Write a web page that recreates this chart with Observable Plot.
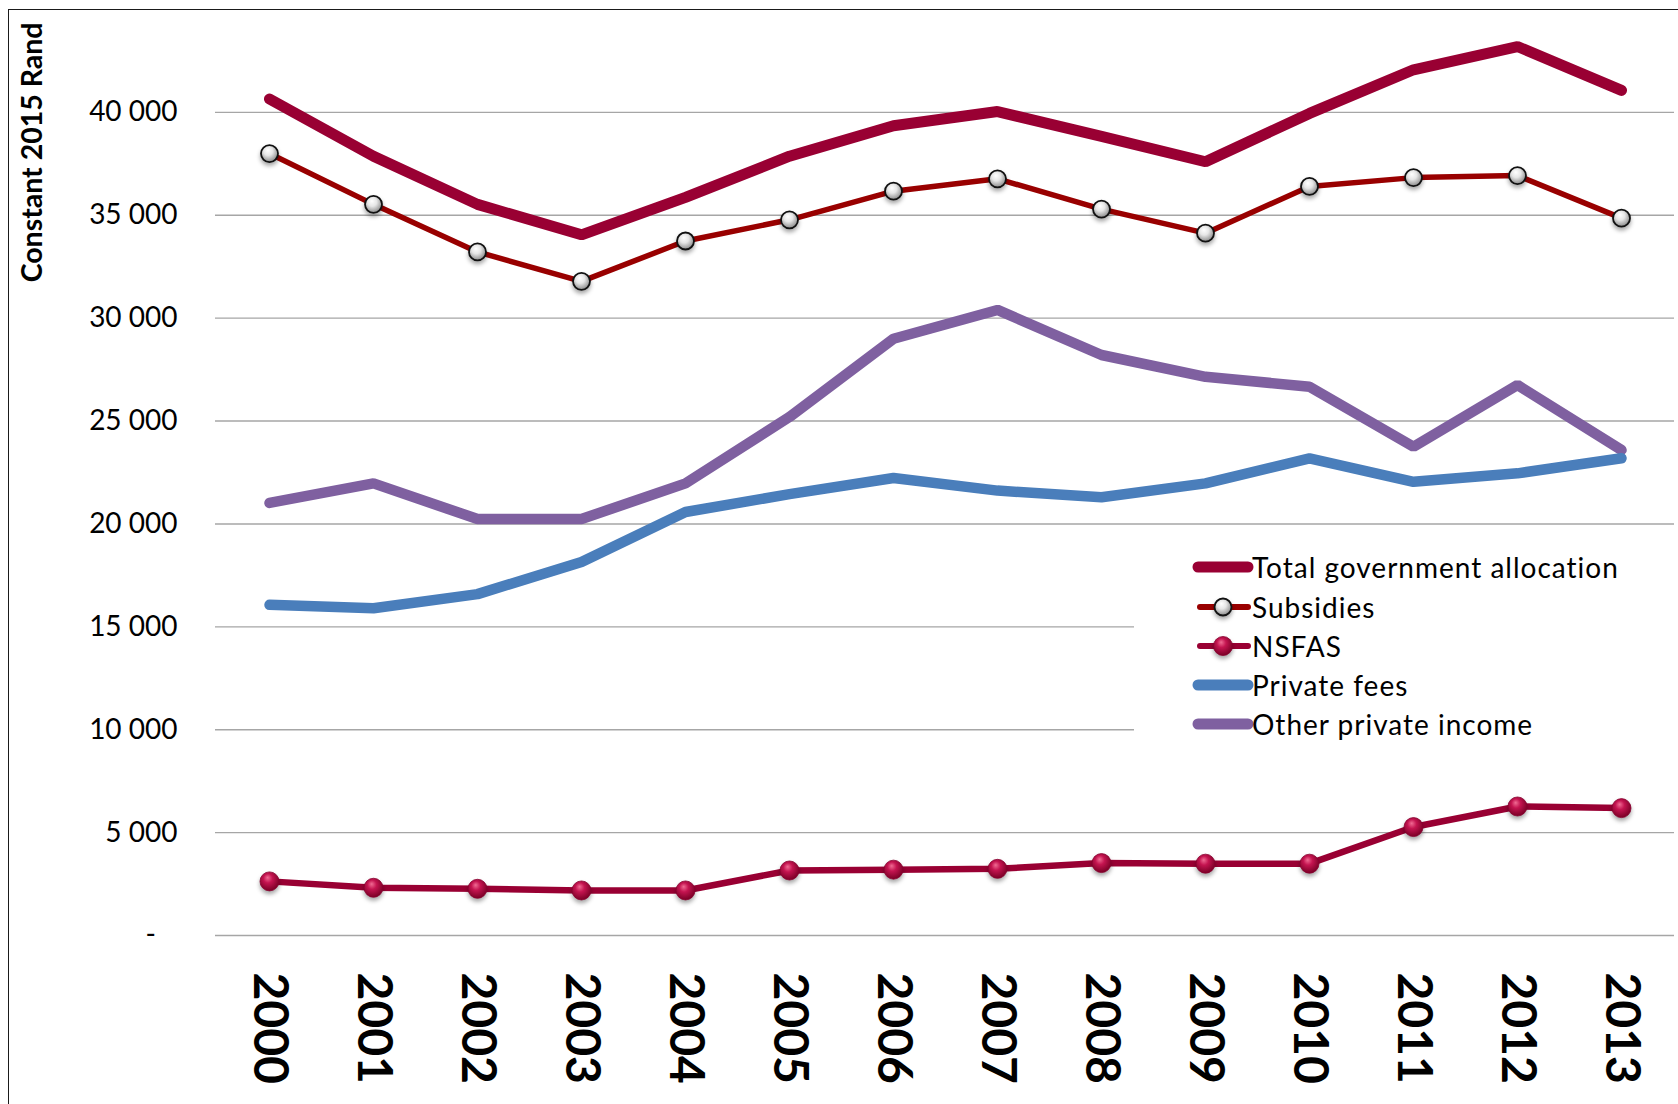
<!DOCTYPE html>
<html>
<head>
<meta charset="utf-8">
<script src="https://cdn.jsdelivr.net/npm/d3@7"></script>
<script src="https://cdn.jsdelivr.net/npm/@observablehq/plot@0.6"></script>
<style>
html, body { margin: 0; padding: 0; background: #fff; overflow: hidden; }
#wrap { position: relative; width: 1678px; height: 1104px; overflow: hidden; }
#border { position: absolute; left: 8px; top: 9px; width: 1720px; height: 1200px; border: 1.5px solid #1a1a1a; box-sizing: border-box; pointer-events: none; }
#legend { position: absolute; left: 1134px; top: 542px; width: 540px; height: 206px; background: #fff; font-family: Lato, "Open Sans", sans-serif; font-size: 28px; letter-spacing: 1px; color: #000; }
.row { position: absolute; left: 0; height: 40px; width: 540px; }
.row svg { position: absolute; left: 58px; top: 0; overflow: visible; }
.row span { position: absolute; left: 118px; top: 0; line-height: 40px; white-space: nowrap; }
.sphere circle, .row circle { filter: drop-shadow(0.5px 3px 2px rgba(0,0,0,0.35)); }
</style>
</head>
<body>
<div id="wrap"></div>
<script>
const years = ["2000","2001","2002","2003","2004","2005","2006","2007","2008","2009","2010","2011","2012","2013"];
const totalGov = [40650, 37870, 35530, 34050, 35870, 37870, 39350, 40040, 38830, 37600, 39950, 42070, 43200, 41070];
const subsidies = [38000, 35530, 33220, 31790, 33750, 34780, 36170, 36770, 35300, 34130, 36400, 36830, 36930, 34860];
const nsfas = [2630, 2320, 2270, 2190, 2190, 3160, 3200, 3240, 3520, 3490, 3490, 5270, 6270, 6190];
const privateFees = [16070, 15900, 16590, 18150, 20580, 21450, 22230, 21620, 21300, 21970, 23190, 22050, 22460, 23190];
const otherPrivate = [21020, 21970, 20240, 20240, 21970, 25200, 29000, 30400, 28210, 27150, 26670, 23750, 26750, 23590];
const yTicks = [0, 5000, 10000, 15000, 20000, 25000, 30000, 35000, 40000];
const seriesNames = ["Total government allocation", "Subsidies", "NSFAS", "Private fees", "Other private income"];
const yLabel = "Constant 2015 Rand";

const colors = {
  "Total government allocation": "#990033",
  "Subsidies": "#990000",
  "NSFAS": "#990033",
  "Private fees": "#4a7ebb",
  "Other private income": "#7f60a0"
};

const toRows = (vals) => years.map((y, i) => ({year: y, value: vals[i]}));
const totalRows = toRows(totalGov);
const subsRows = toRows(subsidies);
const nsfasRows = toRows(nsfas);
const feesRows = toRows(privateFees);
const otherRows = toRows(otherPrivate);

const fmt = d => d === 0 ? "-\u00a0\u00a0\u00a0" : d3.format(",")(d).replace(/,/g, " ");

const defsMark = () => {
  const defs = d3.create("svg:defs");
  const g1 = defs.append("radialGradient").attr("id", "sphereWhite").attr("cx", "0.45").attr("cy", "0.4").attr("r", "0.6").attr("fx", "0.4").attr("fy", "0.3");
  g1.append("stop").attr("offset", "0").attr("stop-color", "#ffffff");
  g1.append("stop").attr("offset", "0.45").attr("stop-color", "#e6e6e6");
  g1.append("stop").attr("offset", "1").attr("stop-color", "#8a8a8a");
  const g2 = defs.append("radialGradient").attr("id", "sphereRed").attr("cx", "0.45").attr("cy", "0.4").attr("r", "0.6").attr("fx", "0.4").attr("fy", "0.3");
  g2.append("stop").attr("offset", "0").attr("stop-color", "#f06b93");
  g2.append("stop").attr("offset", "0.4").attr("stop-color", "#c41450");
  g2.append("stop").attr("offset", "1").attr("stop-color", "#7a0026");
  return defs.node();
};

const chart = Plot.plot({
  width: 1678,
  height: 1104,
  marginLeft: 215,
  marginRight: 4,
  marginTop: 9,
  marginBottom: 169,
  style: {fontFamily: "Lato, 'Open Sans', sans-serif", background: "transparent", overflow: "visible"},
  x: {type: "point", domain: years, padding: 0.5},
  y: {domain: [0, 45000]},
  marks: [
    defsMark,
    Plot.gridY(yTicks, {stroke: "#a6a6a6", strokeOpacity: 1, strokeWidth: 1.4}),
    Plot.axisY(yTicks, {tickFormat: fmt, tickSize: 0, tickPadding: 38, fontSize: 28, label: null, fill: "#000"}),
    Plot.axisX(years, {tickSize: 0, tickRotate: 90, textAnchor: "start", lineAnchor: "middle", tickPadding: 37, fontSize: 48, fontWeight: "bold", label: null, fill: "#000"}),
    Plot.text([yLabel], {frameAnchor: "top-left", rotate: -90, textAnchor: "end", lineAnchor: "middle", dx: -183, dy: 13, fontSize: 28.5, fontWeight: "bold", fill: "#000"}),
    Plot.line(totalRows, {x: "year", y: "value", stroke: colors["Total government allocation"], strokeWidth: 11, strokeLinecap: "round", strokeLinejoin: "miter"}),
    Plot.line(subsRows, {x: "year", y: "value", stroke: colors["Subsidies"], strokeWidth: 5.5, strokeLinejoin: "miter"}),
    Plot.dot(subsRows, {x: "year", y: "value", r: 8.5, fill: "url(#sphereWhite)", stroke: "#111", strokeWidth: 1.8, className: "sphere"}),
    Plot.line(nsfasRows, {x: "year", y: "value", stroke: colors["NSFAS"], strokeWidth: 6.5, strokeLinejoin: "miter"}),
    Plot.dot(nsfasRows, {x: "year", y: "value", r: 9.5, fill: "url(#sphereRed)", stroke: "#8a0030", strokeWidth: 0.8, className: "sphere"}),
    Plot.line(otherRows, {x: "year", y: "value", stroke: colors["Other private income"], strokeWidth: 10.5, strokeLinecap: "round", strokeLinejoin: "miter"}),
    Plot.line(feesRows, {x: "year", y: "value", stroke: colors["Private fees"], strokeWidth: 10.5, strokeLinecap: "round", strokeLinejoin: "miter"})
  ]
});

const wrap = document.getElementById("wrap");
chart.style.position = "absolute";
chart.style.left = "0px";
chart.style.top = "0px";
wrap.appendChild(chart);

const border = document.createElement("div");
border.id = "border";
wrap.appendChild(border);

// Legend (HTML overlay)
const legend = document.createElement("div");
legend.id = "legend";
const rowCenters = [25, 65, 104, 143, 182];
seriesNames.forEach((name, i) => {
  const row = document.createElement("div");
  row.className = "row";
  row.style.top = (rowCenters[i] - 20) + "px";
  const c = colors[name];
  let svg = `<svg width="60" height="40" viewBox="0 0 60 40" xmlns="http://www.w3.org/2000/svg">
    <defs>
      <radialGradient id="lgW${i}" cx="0.45" cy="0.4" r="0.6" fx="0.4" fy="0.3"><stop offset="0" stop-color="#fff"/><stop offset="0.45" stop-color="#e6e6e6"/><stop offset="1" stop-color="#8a8a8a"/></radialGradient>
      <radialGradient id="lgR${i}" cx="0.45" cy="0.4" r="0.6" fx="0.4" fy="0.3"><stop offset="0" stop-color="#f06b93"/><stop offset="0.4" stop-color="#c41450"/><stop offset="1" stop-color="#7a0026"/></radialGradient>
    </defs>`;
  if (name === "Subsidies" || name === "NSFAS") {
    svg += `<line x1="8" y1="20" x2="56" y2="20" stroke="${c}" stroke-width="6" stroke-linecap="round"/>`;
    if (name === "Subsidies") svg += `<circle cx="31" cy="20" r="8.5" fill="url(#lgW${i})" stroke="#111" stroke-width="1.8"/>`;
    else svg += `<circle cx="31" cy="20" r="9.5" fill="url(#lgR${i})" stroke="#8a0030" stroke-width="0.8"/>`;
  } else {
    svg += `<line x1="6" y1="20" x2="56" y2="20" stroke="${c}" stroke-width="11" stroke-linecap="round"/>`;
  }
  svg += `</svg>`;
  row.innerHTML = svg + `<span>${name}</span>`;
  legend.appendChild(row);
});
wrap.appendChild(legend);
</script>
</body>
</html>
